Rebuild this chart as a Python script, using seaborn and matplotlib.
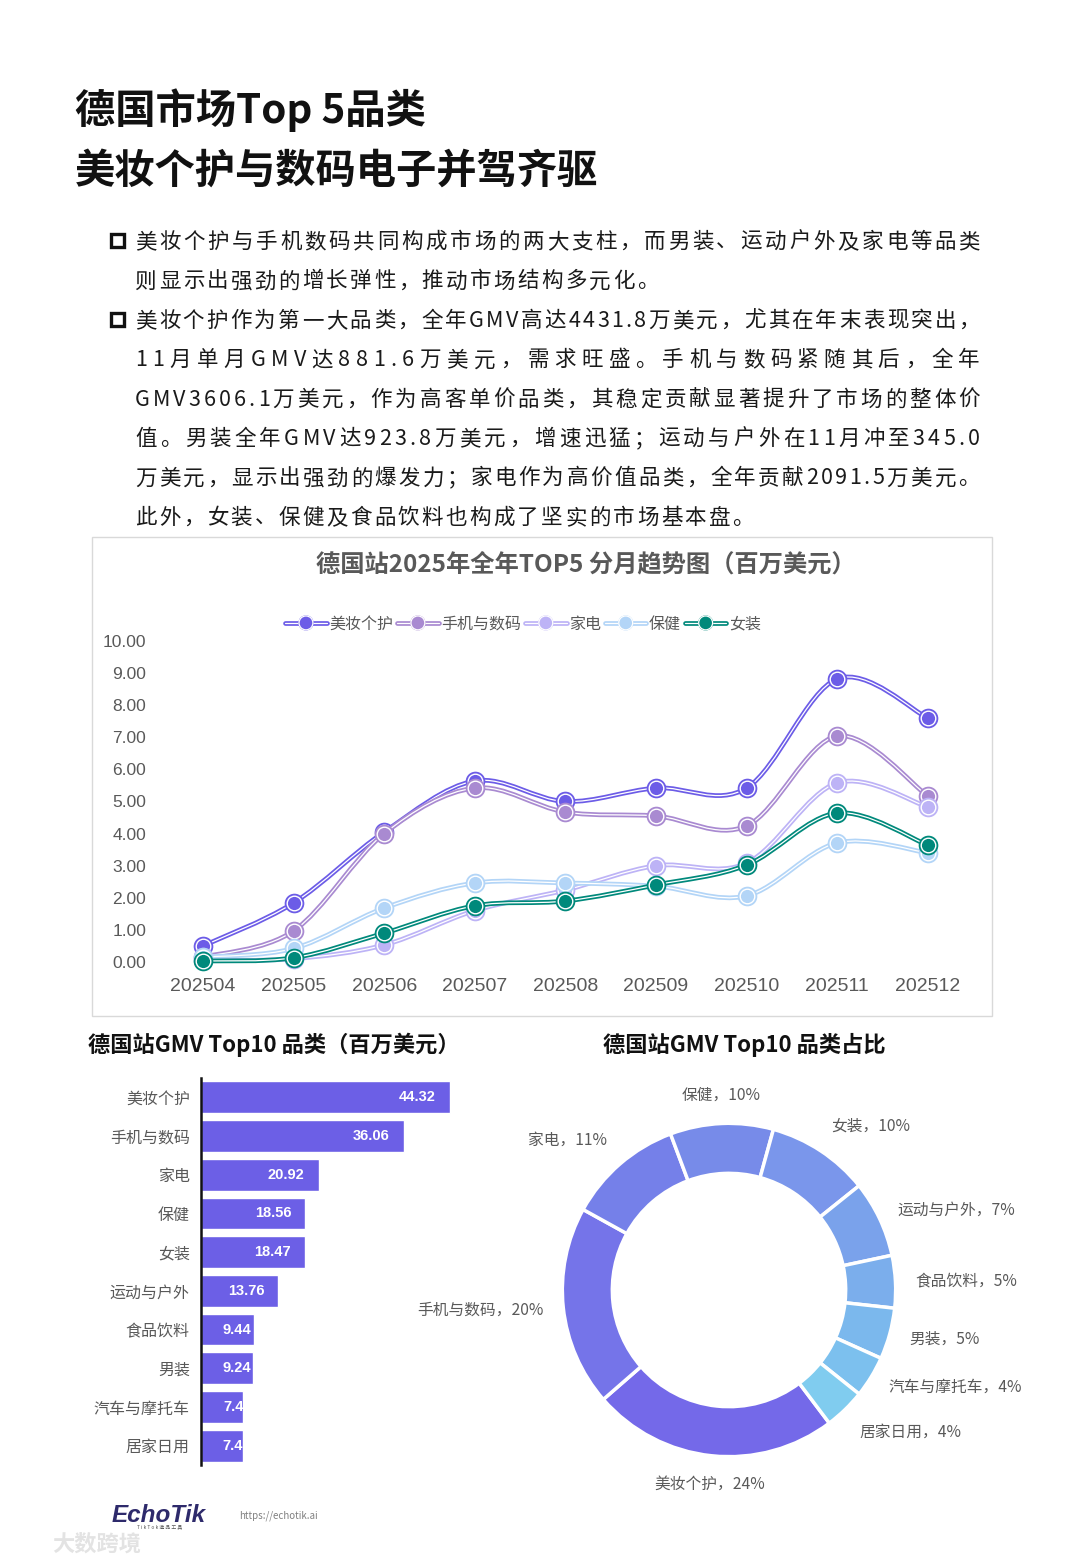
import numpy as np
import pandas as pd
import matplotlib
matplotlib.use("Agg")
import matplotlib.pyplot as plt
import seaborn as sns
from matplotlib.path import Path
from matplotlib.patches import PathPatch, Rectangle
from matplotlib.lines import Line2D
import matplotlib.patheffects as pe

# ---- data ----
months = ["202504", "202505", "202506", "202507", "202508", "202509", "202510", "202511", "202512"]
beauty = [0.50, 1.84, 4.05, 5.64, 5.00, 5.42, 5.42, 8.82, 7.60]
digital = [0.15, 0.97, 4.00, 5.42, 4.67, 4.55, 4.24, 7.04, 5.17]
appliance = [0.05, 0.10, 0.53, 1.60, 2.24, 3.00, 3.08, 5.58, 4.83]
health = [0.15, 0.42, 1.68, 2.46, 2.46, 2.36, 2.06, 3.71, 3.40]
womens = [0.03, 0.13, 0.90, 1.75, 1.90, 2.40, 3.02, 4.64, 3.64]
line_names = ["美妆个护", "手机与数码", "家电", "保健", "女装"]
line_colors = ["#6C5CE7", "#A98AD1", "#BDB3F6", "#B3D5F7", "#00897B"]

categories = ["美妆个护", "手机与数码", "家电", "保健", "女装",
              "运动与户外", "食品饮料", "男装", "汽车与摩托车", "居家日用"]
gmv = [44.32, 36.06, 20.92, 18.56, 18.47, 13.76, 9.44, 9.24, 7.45, 7.40]
share_pct = [24, 20, 11, 10, 10, 7, 5, 5, 4, 4]
donut_colors = ["#7469E9", "#7574E9", "#7580E9", "#778BE9", "#7A96EB",
                "#7AA2EB", "#7BAEEC", "#7BB8ED", "#7CC0EE", "#80CCEF"]

title_lines = ["德国市场Top 5品类", "美妆个护与数码电子并驾齐驱"]
body_lines = [
    "美妆个护与手机数码共同构成市场的两大支柱，而男装、运动户外及家电等品类",
    "则显示出强劲的增长弹性，推动市场结构多元化。",
    "美妆个护作为第一大品类，全年GMV高达4431.8万美元，尤其在年末表现突出，",
    "11月单月GMV达881.6万美元，需求旺盛。手机与数码紧随其后，全年",
    "GMV3606.1万美元，作为高客单价品类，其稳定贡献显著提升了市场的整体价",
    "值。男装全年GMV达923.8万美元，增速迅猛；运动与户外在11月冲至345.0",
    "万美元，显示出强劲的爆发力；家电作为高价值品类，全年贡献2091.5万美元。",
    "此外，女装、保健及食品饮料也构成了坚实的市场基本盘。",
]
justified = [True, False, True, True, True, True, True, False]
bullet_rows = [0, 2]

sns.set_theme(style="white")
plt.rcParams["font.family"] = ["Noto Sans CJK SC", "DejaVu Sans"]
plt.rcParams["axes.unicode_minus"] = False

W, H = 1080, 1560
fig = plt.figure(figsize=(W / 100, H / 100), dpi=100)
fig.patch.set_facecolor("white")
renderer = fig.canvas.get_renderer()


def axes_px(l, t, r, b):
    return fig.add_axes([l / W, 1 - b / H, (r - l) / W, (b - t) / H])


def ftext(x, y, s, **kw):
    return fig.text(x / W, 1 - y / H, s, **kw)


# ---- headline ----
ftext(75, 123, title_lines[0], size=29, weight="bold", color="#111111", va="baseline")
ftext(75, 183, title_lines[1], size=29, weight="bold", color="#111111", va="baseline")

# ---- body text, drawn char by char so lines can be justified ----
body_size = 15.5
adv_cache = {}


def advance(ch):
    if ch not in adv_cache:
        t1 = fig.text(0, 0, "|" + ch + "|", size=body_size)
        t2 = fig.text(0, 0, "||", size=body_size)
        adv_cache[ch] = t1.get_window_extent(renderer).width - t2.get_window_extent(renderer).width
        t1.remove()
        t2.remove()
    return adv_cache[ch]


x_left, x_right = 135, 980
y0, dy = 240, 39.4
for row, line in enumerate(body_lines):
    advs = [advance(c) for c in line]
    if justified[row]:
        gap = (x_right - x_left - sum(advs)) / (len(line) - 1)
    else:
        gap = 2.4
    yb = y0 + row * dy + 8
    x = x_left
    for c, a in zip(line, advs):
        ftext(x, yb, c, size=body_size, color="#1a1a1a", va="baseline")
        x += a + gap
    if row in bullet_rows:
        fig.patches.append(Rectangle((111 / W, 1 - (y0 + row * dy + 7) / H), 13 / W, 13 / H,
                                     transform=fig.transFigure, fill=False,
                                     edgecolor="#111111", lw=2.4))

# ---- line chart ----
fig.patches.append(Rectangle((92 / W, 1 - 1016 / H), 900 / W, 479 / H, transform=fig.transFigure,
                             fill=False, edgecolor="#D9D9D9", lw=1))
ftext(586, 564, "德国站2025年全年TOP5 分月趋势图（百万美元）", size=17.5, weight="bold",
      color="#595959", ha="center", va="center")

ax1 = axes_px(160, 634.6, 970, 978)
series = [beauty, digital, appliance, health, womens]
xs = np.arange(len(months))


def smooth_path(px, py):
    pts = np.column_stack([px, py]).astype(float)
    n = len(pts)
    verts = [pts[0]]
    codes = [Path.MOVETO]
    for i in range(n - 1):
        p0 = pts[i - 1] if i > 0 else pts[i]
        p1, p2 = pts[i], pts[i + 1]
        p3 = pts[i + 2] if i + 2 < n else pts[i + 1]
        verts += [p1 + (p2 - p0) / 6, p2 - (p3 - p1) / 6, p2]
        codes += [Path.CURVE4] * 3
    return Path(verts, codes)


for k, (name, vals, col) in enumerate(zip(line_names, series, line_colors)):
    z = 3 + k * 4
    path = smooth_path(xs, vals)
    ax1.add_patch(PathPatch(path, facecolor="none", edgecolor=col, lw=3.4, zorder=z))
    ax1.add_patch(PathPatch(path, facecolor="none", edgecolor="white", lw=0.9, zorder=z + 1))
    df = pd.DataFrame({"m": xs, "v": vals})
    sns.scatterplot(data=df, x="m", y="v", ax=ax1, color=col, s=200, linewidth=0,
                    zorder=z + 2, clip_on=False, legend=False)
    sns.scatterplot(data=df, x="m", y="v", ax=ax1, color=col, s=110, edgecolor="white",
                    linewidth=1.0, zorder=z + 3, clip_on=False, legend=False)

ax1.set_xlim(-0.475, 8.466)
ax1.set_ylim(-0.5, 10.2)
ax1.set_xticks(xs)
ax1.set_xticklabels(months, family="Liberation Sans", size=14, color="#595959")
ax1.set_yticks(np.arange(0, 11, 1))
ax1.set_yticklabels([f"{v:.2f}" for v in np.arange(0, 11, 1)], family="Liberation Sans",
                    size=12.5, color="#595959")
ax1.tick_params(axis="x", length=0, pad=0)
ax1.tick_params(axis="y", length=0, pad=10)
ax1.set_xlabel("")
ax1.set_ylabel("")
for s in ax1.spines.values():
    s.set_visible(False)
ax1.patch.set_alpha(0)

handles = []
for col in line_colors:
    h = Line2D([0], [0], color=col, lw=3.4, marker="o", markersize=10, markerfacecolor=col,
               markeredgecolor=col)
    h.set_path_effects([pe.Normal(), pe.Stroke(linewidth=0.9, foreground="white")])
    handles.append(h)
fig.legend(handles, line_names, loc="center", bbox_to_anchor=(523 / W, 1 - 624 / H), ncol=5,
           frameon=False, handlelength=2.6, handletextpad=0.15, columnspacing=0.25,
           prop={"size": 11.5}, labelcolor="#595959")

# ---- bar chart ----
ftext(88, 1045, "德国站GMV Top10 品类（百万美元）", size=16, weight="bold", color="#111111",
      va="center")
ax2 = axes_px(201, 1078, 482, 1465)
sns.barplot(x=gmv, y=categories, orient="h", color="#6C5FE6", saturation=1, width=0.82, ax=ax2)
ax2.set_xlim(0, 50)
ax2.set_ylim(9.5, -0.5)
ax2.set_xticks([])
ax2.tick_params(axis="y", length=0, pad=8, labelsize=11.5, labelcolor="#595959")
ax2.set_xlabel("")
ax2.set_ylabel("")
for name, s in ax2.spines.items():
    s.set_visible(name == "left")
ax2.spines["left"].set_color("#111111")
ax2.spines["left"].set_linewidth(1.8)
for i, v in enumerate(gmv):
    ax2.text(max(v - 2.5, 9.0), i, f"{v:.2f}", ha="right", va="center", color="white",
             weight="bold", size=10.5, family="Liberation Sans")

# ---- donut ----
ftext(603, 1045, "德国站GMV Top10 品类占比", size=16, weight="bold", color="#111111", va="center")
ax3 = axes_px(529, 1090, 929, 1490)
wedges, _ = ax3.pie(gmv, colors=donut_colors, startangle=-53, counterclock=False, radius=1,
                    wedgeprops=dict(width=0.3, edgecolor="white", linewidth=2.5))
ax3.set_xlim(-1.2, 1.2)
ax3.set_ylim(-1.2, 1.2)
ax3.set_aspect("equal")
ax3.axis("off")
for w, name, p in zip(wedges, categories, share_pct):
    mid = np.deg2rad((w.theta1 + w.theta2) / 2)
    cx, cy = np.cos(mid), np.sin(mid)
    ha = "left" if cx > 0.25 else ("right" if cx < -0.25 else "center")
    va = "bottom" if cy > 0.6 else ("top" if cy < -0.6 else "center")
    ax3.text(1.12 * cx, 1.12 * cy, f"{name}，{p}%", ha=ha, va=va, size=11.3,
             color="#595959", clip_on=False)

# ---- footer ----
ftext(112, 1515, "EchoTik", size=17.5, weight="bold", style="italic", color="#2E2A6B",
      family="Liberation Sans", va="center")
ftext(160, 1527, "T i k T o k 选 品 工 具", size=3.5, color="#555555", ha="center", va="center")
ftext(239, 1516, "https://echotik.ai", size=7, color="#808080", va="center")
ftext(52, 1544, "大数跨境", size=16, weight="bold", color="#E3E3E3", va="center")

fig.savefig("out.png", dpi=100, facecolor="white")
